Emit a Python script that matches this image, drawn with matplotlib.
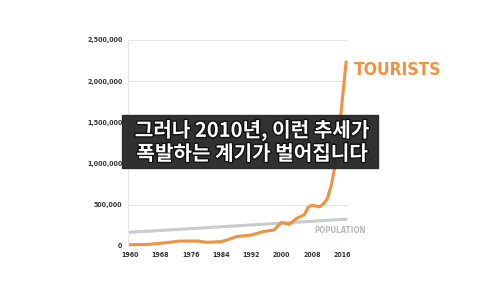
import matplotlib
matplotlib.use("Agg")
import matplotlib.pyplot as plt
import matplotlib.patheffects as pe

years = [1960, 1965, 1970, 1973, 1978, 1980, 1984, 1986, 1988, 1992, 1995, 1998,
         2000, 2002, 2004, 2006, 2007, 2008, 2010, 2011, 2012, 2013, 2014, 2015,
         2016, 2017]
tourists = [15000, 20000, 42000, 60000, 60000, 45000, 52000, 80000, 113000, 133000,
            174000, 195000, 285000, 263000, 336000, 380000, 470000, 495000, 475000,
            510000, 570000, 720000, 950000, 1300000, 1780000, 2230000]
pop_years = [1960, 2017]
population = [166000, 325000]

y_ticks = [0, 500000, 1000000, 1500000, 2000000, 2500000]
y_labels = ["0", "500,000", "1,000,000", "1,500,000", "2,000,000", "2,500,000"]
x_ticks = [1960, 1968, 1976, 1984, 1992, 2000, 2008, 2016]

ORANGE = "#F0923F"
GREY = "#C9CBCE"

fig = plt.figure(figsize=(5, 2.81), dpi=100)
ax = fig.add_axes([0.256, 0.1246, 0.44, 0.7331])

ax.plot(pop_years, population, color=GREY, lw=2.2, solid_capstyle="round", clip_on=False)
ax.plot(years, tourists, color=ORANGE, lw=2.2, clip_on=False)

ax.set_xlim(1959.5, 2017.5)
ax.set_ylim(0, 2500000)
ax.set_yticks(y_ticks)
ax.set_yticklabels(y_labels)
ax.set_xticks(x_ticks)
ax.set_xticklabels([str(x) for x in x_ticks])
ax.grid(axis="y", color="#E6E6E6", lw=0.8)
ax.set_axisbelow(True)
for s in ["top", "right", "bottom"]:
    ax.spines[s].set_visible(False)
ax.spines["left"].set_color("#E6E6E6")
ax.tick_params(length=0, labelsize=5, colors="#333333", pad=4)
for lab in ax.get_xticklabels() + ax.get_yticklabels():
    lab.set_fontstretch("condensed")
    lab.set_fontweight("bold")

# series labels
ax.text(2019, 2130000, "TOURISTS", color=ORANGE, fontsize=12.5, fontweight="bold",
        fontstretch="condensed", va="center", ha="left", clip_on=False)
ax.text(2015.5, 190000, "POPULATION", color="#B9BBBE", fontsize=5.8, fontweight="bold",
        fontstretch="condensed", va="center", ha="center", clip_on=False)

# caption box
fig.patches.append(plt.Rectangle((122 / 500, 1 - 168 / 281), 256 / 500, 53 / 281,
                                 transform=fig.transFigure, color="#262626", alpha=0.95, zorder=5))
fig.text(252 / 500, 1 - 142 / 281, "그러나 2010년, 이런 추세가\n폭발하는 계기가 벌어집니다",
         ha="center", va="center", color="white", fontsize=14.5, fontweight="bold",
         family=["Noto Sans CJK KR", "DejaVu Sans"], linespacing=1.1, zorder=6,
         path_effects=[pe.withStroke(linewidth=2, foreground="#111111")])

fig.savefig("out.png", dpi=100)
